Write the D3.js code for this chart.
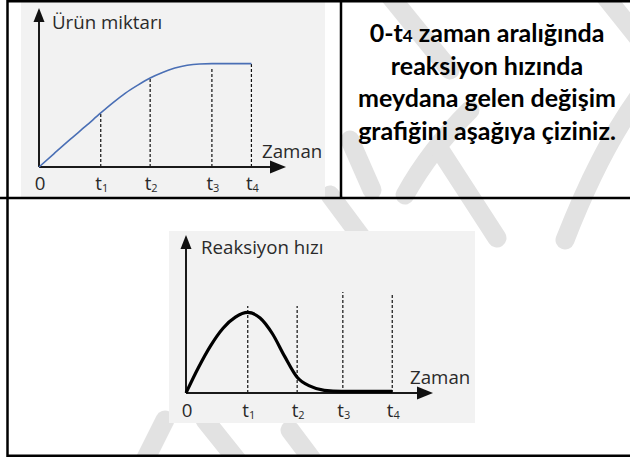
<!DOCTYPE html>
<html><head><meta charset="utf-8">
<script src="https://cdn.jsdelivr.net/npm/d3@7"></script>
<style>body{margin:0;background:#fff;overflow:hidden}</style>
</head><body>
<svg id="c" width="630" height="457"></svg>
<script>
// ---------- data ----------
const topTicks = [0, 2.5, 4.5, 7.0, 8.6];
const topTickLabels = ["0", "t1", "t2", "t3", "t4"];
const productX = [0, 0.6, 1.25, 1.9, 2.5, 3.0, 3.5, 4.0, 4.5, 5.0, 5.5, 6.0, 6.5, 7.0, 8.6];
const productY = [0, 0.83, 1.72, 2.58, 3.4, 4.05, 4.65, 5.15, 5.6, 5.95, 6.22, 6.4, 6.48, 6.5, 6.5];
const topDashTop = [3.4, 5.6, 6.25, 6.5];
const topYLabel = "Ürün miktarı";
const xLabel = "Zaman";

const botTicks = [0, 2.5, 4.5, 6.35, 8.35];
const botTickLabels = ["0", "t1", "t2", "t3", "t4"];
const rateX = [0, 0.5, 1.0, 1.5, 2.0, 2.5, 3.0, 3.5, 4.0, 4.5, 5.0, 5.6, 6.3, 8.35];
const rateY = [0, 1.6, 3.0, 4.1, 4.8, 5.1, 4.75, 3.75, 2.3, 1.0, 0.45, 0.17, 0.1, 0.1];
const botDashTop = [5.5, 5.5, 6.4, 6.3];
const botYLabel = "Reaksiyon hızı";

const questionLines = ["0-t|4| zaman aralığında", "reaksiyon hızında", "meydana gelen değişim", "grafiğini aşağıya çiziniz."];

// ---------- drawing ----------
const svg = d3.select("#c");
const FONT = "'Open Sans', 'Noto Sans', sans-serif";
const FS = 18.7;

// watermark (drawn first, under everything)
const wm = svg.append("g").attr("fill", "none").attr("stroke", "#e2e2e2")
  .attr("stroke-width", 19).attr("stroke-linecap", "round");
[
  "M385,-10 L450,70",
  "M600,-10 L640,40",
  "M640,95 Q600,150 565,240",
  "M470,110 Q430,150 405,195",
  "M330,195 L362,238",
  "M440,150 L497,238",
  "M350,140 L372,190",
  "M140,470 L165,420",
  "M205,420 L245,470",
  "M290,430 L320,470"
].forEach(d => wm.append("path").attr("d", d));

// panels
svg.append("rect").attr("x", 21).attr("y", 1).attr("width", 304).attr("height", 196).attr("fill", "#f2f2f2");
svg.append("rect").attr("x", 169).attr("y", 231).attr("width", 306).attr("height", 192).attr("fill", "#f2f2f2");

// table borders
const bd = svg.append("g").attr("stroke", "#000").attr("stroke-width", 2.5);
bd.append("line").attr("x1", 7).attr("x2", 630).attr("y1", 1.2).attr("y2", 1.2);
bd.append("line").attr("x1", 0).attr("x2", 630).attr("y1", 198).attr("y2", 198);
bd.append("line").attr("x1", 7).attr("x2", 630).attr("y1", 455.8).attr("y2", 455.8);
bd.append("line").attr("x1", 7.5).attr("x2", 7.5).attr("y1", 0).attr("y2", 457);
bd.append("line").attr("x1", 341).attr("x2", 341).attr("y1", 0).attr("y2", 198);

function drawChart(cfg) {
  const x = d3.scaleLinear().domain([0, 10]).range([cfg.x0, cfg.xEnd]);
  const y = d3.scaleLinear().domain([0, 10]).range([cfg.y0, cfg.yEnd]);
  const g = svg.append("g");

  // dashed guide lines
  g.selectAll(".dash").data(cfg.ticks.slice(1)).join("line")
    .attr("x1", d => x(d)).attr("x2", d => x(d))
    .attr("y1", y(0)).attr("y2", (d, i) => y(cfg.dashTop[i]))
    .attr("stroke", "#111").attr("stroke-width", 1.2).attr("stroke-dasharray", "3,2");

  // axes via d3 axis (domain line only, labels drawn custom)
  const xAxis = d3.axisBottom(x).tickValues(cfg.ticks).tickSize(0).tickFormat("");
  const xa = g.append("g").attr("transform", `translate(0,${y(0)})`).call(xAxis);
  xa.select(".domain").attr("d", `M${x(0)},0H${cfg.xEnd - 12}`).attr("stroke", "#1a1a1a").attr("stroke-width", 2);
  const yAxis = d3.axisLeft(y).tickValues([]).tickSize(0);
  const ya = g.append("g").attr("transform", `translate(${x(0)},0)`).call(yAxis);
  ya.select(".domain").attr("d", `M0,${y(0)}V${cfg.yEnd + 12}`).attr("stroke", "#1a1a1a").attr("stroke-width", 2);

  // arrowheads
  g.append("path").attr("d", `M${cfg.xEnd},${y(0)} l-16,-6.5 v13 z`).attr("fill", "#111");
  g.append("path").attr("d", `M${x(0)},${cfg.yEnd} l-5.5,14 h11 z`).attr("fill", "#111");

  // curve
  const line = d3.line().x(d => x(d[0])).y(d => y(d[1])).curve(d3.curveMonotoneX);
  g.append("path").datum(cfg.cx.map((v, i) => [v, cfg.cy[i]]))
    .attr("d", line).attr("fill", "none").attr("stroke", cfg.color)
    .attr("stroke-width", cfg.width).attr("stroke-linejoin", "round");

  // tick labels
  const tl = g.selectAll(".tl").data(cfg.ticks).join("text")
    .attr("x", d => x(d) + 1).attr("y", cfg.labelY)
    .attr("text-anchor", "middle").attr("font-family", FONT).attr("font-size", FS)
    .attr("fill", "#2a2a2a");
  tl.each(function (d, i) {
    const s = cfg.tickLabels[i];
    const t = d3.select(this);
    t.append("tspan").text(s[0]);
    if (s.length > 1) t.append("tspan").attr("font-size", 11).attr("dy", 2).text(s.slice(1));
  });

  // axis titles
  g.append("text").attr("x", cfg.yLabelX).attr("y", cfg.yLabelY)
    .attr("font-family", FONT).attr("font-size", FS).attr("fill", "#2a2a2a").text(cfg.yLabel);
  g.append("text").attr("x", cfg.xLabelX).attr("y", cfg.xLabelY)
    .attr("font-family", FONT).attr("font-size", FS).attr("fill", "#2a2a2a").text(xLabel);
}

drawChart({
  x0: 39, xEnd: 286, y0: 167, yEnd: 8,
  ticks: topTicks, tickLabels: topTickLabels, dashTop: topDashTop,
  cx: productX, cy: productY, color: "#4a6fb5", width: 1.6,
  labelY: 190, yLabel: topYLabel, yLabelX: 52, yLabelY: 29,
  xLabelX: 262, xLabelY: 158
});
drawChart({
  x0: 186, xEnd: 433, y0: 393, yEnd: 235,
  ticks: botTicks, tickLabels: botTickLabels, dashTop: botDashTop,
  cx: rateX, cy: rateY, color: "#000", width: 3.2,
  labelY: 417, yLabel: botYLabel, yLabelX: 201, yLabelY: 254,
  xLabelX: 410, xLabelY: 384
});

// question text
const q = svg.append("text").attr("text-anchor", "middle")
  .attr("font-family", "Lato, 'Open Sans', sans-serif").attr("font-weight", "bold")
  .attr("font-size", 25).attr("fill", "#000");
questionLines.forEach((ln, i) => {
  const t = q.append("tspan").attr("x", 487).attr("y", 42 + i * 32.7);
  const parts = ln.split("|");
  parts.forEach((p, j) => {
    if (j % 2 === 1) t.append("tspan").attr("font-size", 17).text(p);
    else t.append("tspan").text(p);
  });
});
</script>
</body></html>
